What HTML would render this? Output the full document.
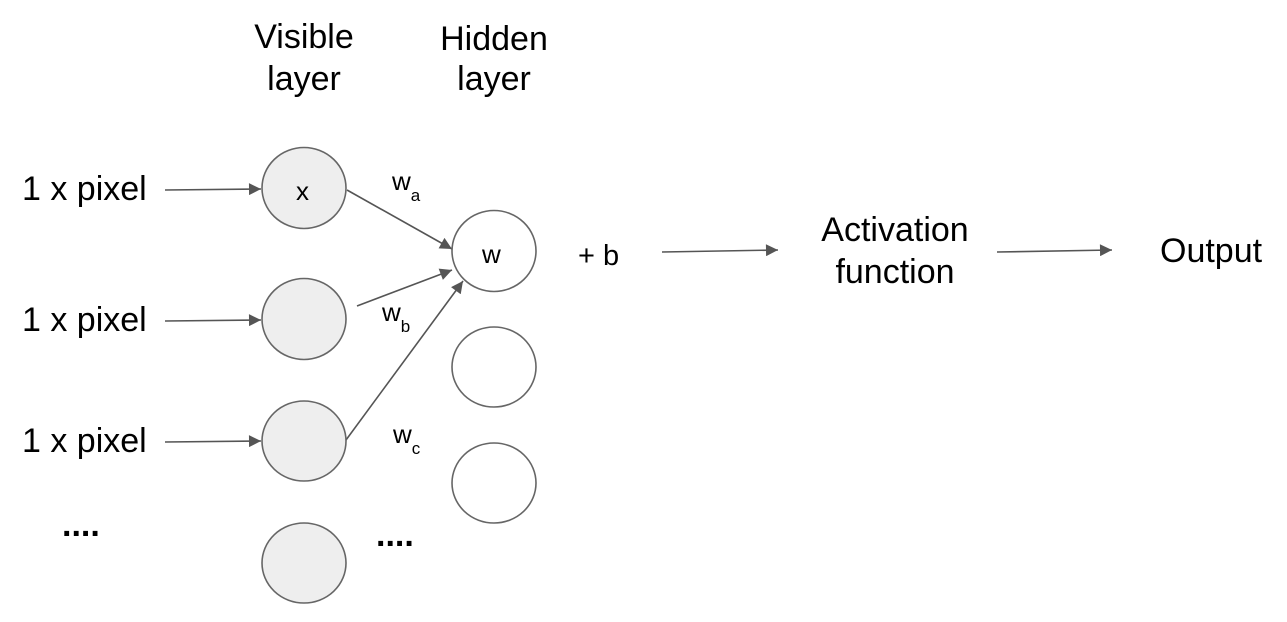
<!DOCTYPE html>
<html><head><meta charset="utf-8"><style>
html,body{margin:0;padding:0;background:#fff;}
svg{display:block;font-family:"Liberation Sans",Arial,sans-serif;}
</style></head><body>
<svg width="1287" height="622" viewBox="0 0 1287 622">
<defs>
<marker id="a2" viewBox="0 0 10 10" markerWidth="16" markerHeight="12" refX="10" refY="5" orient="auto" markerUnits="userSpaceOnUse"><path d="M0,0 L10,5 L0,10 Z" fill="#555"/></marker></defs>
<g font-size="34" fill="#000" text-anchor="middle">
<text x="304" y="48">Visible</text>
<text x="304" y="90">layer</text>
<text x="494" y="50">Hidden</text>
<text x="494" y="90">layer</text>
</g>
<g font-size="34" fill="#000">
<text x="22" y="200">1 x pixel</text>
<text x="22" y="331">1 x pixel</text>
<text x="22" y="452">1 x pixel</text>
<text x="62" y="536" font-weight="bold">....</text>
<text x="376" y="546" font-weight="bold">....</text>
<text x="578" y="265" font-size="29">+ b</text>
<text x="895" y="241" text-anchor="middle">Activation</text>
<text x="895" y="283" text-anchor="middle">function</text>
<text x="1160" y="262">Output</text>
</g>
<g stroke="#555" stroke-width="1.6" fill="none" marker-end="url(#a2)">
<line x1="165" y1="190" x2="261" y2="189"/>
<line x1="165" y1="321" x2="261" y2="320"/>
<line x1="165" y1="442" x2="261" y2="441"/>
<line x1="347" y1="190" x2="452" y2="249"/>
<line x1="357" y1="306" x2="452" y2="270"/>
<line x1="346" y1="440" x2="463" y2="281"/>
<line x1="662" y1="252" x2="778" y2="250"/>
<line x1="997" y1="252" x2="1112" y2="250"/>
</g>
<g stroke="#666" stroke-width="1.6" fill="#eeeeee">
<ellipse cx="304" cy="188" rx="42" ry="40.5"/>
<ellipse cx="304" cy="319" rx="42" ry="40.5"/>
<ellipse cx="304" cy="441" rx="42" ry="40"/>
<ellipse cx="304" cy="563" rx="42" ry="40"/>
</g>
<g stroke="#666" stroke-width="1.6" fill="#fff">
<ellipse cx="494" cy="251" rx="42" ry="40.5"/>
<ellipse cx="494" cy="367" rx="42" ry="40"/>
<ellipse cx="494" cy="483" rx="42" ry="40"/>
</g>
<g font-size="26" fill="#000">
<text x="296" y="200">x</text>
<text x="482" y="263">w</text>
<text x="392" y="190">w<tspan font-size="17" dy="11">a</tspan></text>
<text x="382" y="321">w<tspan font-size="17" dy="11">b</tspan></text>
<text x="393" y="443">w<tspan font-size="17" dy="11">c</tspan></text>
</g>
</svg>
</body></html>
